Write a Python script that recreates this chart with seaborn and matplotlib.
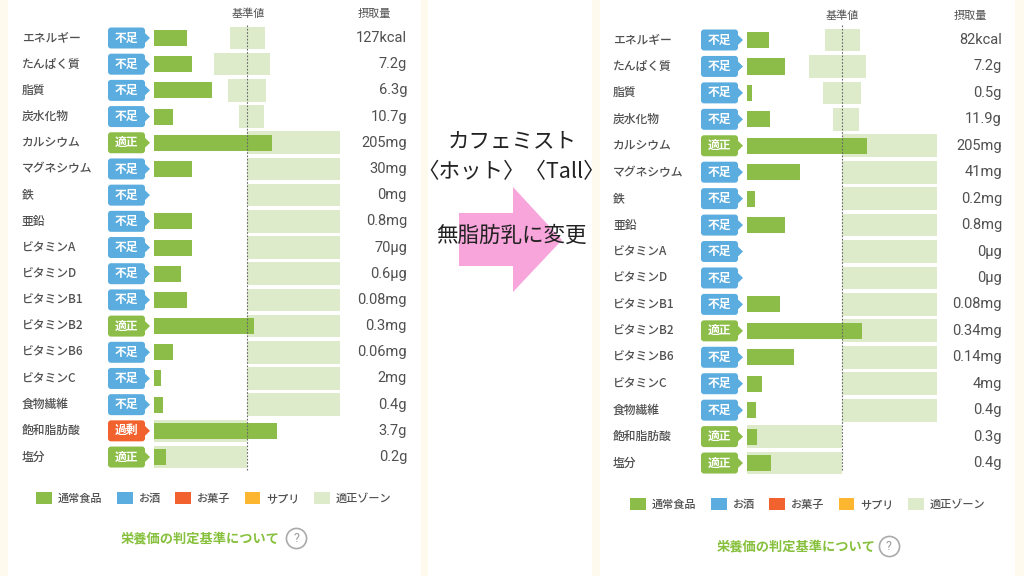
import numpy as np
import matplotlib
matplotlib.use('Agg')
import matplotlib.pyplot as plt
import seaborn as sns
from matplotlib.patches import FancyBboxPatch, Polygon, Rectangle, Patch

# ---- data (摂取量は基準値を100としたときの%) ----
nutrients = ['エネルギー', 'たんぱく質', '脂質', '炭水化物', 'カルシウム', 'マグネシウム', '鉄', '亜鉛',
             'ビタミンA', 'ビタミンD', 'ビタミンB1', 'ビタミンB2', 'ビタミンB6', 'ビタミンC',
             '食物繊維', '飽和脂肪酸', '塩分']

zone_lo = [82, 65, 80, 91, 100, 100, 100, 100, 100, 100, 100, 100, 100, 100, 100, 0, 0]
zone_hi = [119, 125, 120, 118, 200, 200, 200, 200, 200, 200, 200, 200, 200, 200, 200, 100, 100]

pct_before = [35.5, 41, 62, 20.5, 127, 41, 0, 41, 41, 29, 35.5, 107.5, 20.5, 7.5, 9.5, 132, 13]
pct_after = [23, 40, 5, 24, 126, 56, 8, 40, 0, 0, 35, 121, 49.5, 16, 9.5, 10.5, 25]

amount_before = ['127kcal', '7.2g', '6.3g', '10.7g', '205mg', '30mg', '0mg', '0.8mg', '70μg', '0.6μg',
                 '0.08mg', '0.3mg', '0.06mg', '2mg', '0.4g', '3.7g', '0.2g']
amount_after = ['82kcal', '7.2g', '0.5g', '11.9g', '205mg', '41mg', '0.2mg', '0.8mg', '0μg', '0μg',
                '0.08mg', '0.34mg', '0.14mg', '4mg', '0.4g', '0.3g', '0.4g']

judge_before = ['不足'] * 4 + ['適正'] + ['不足'] * 6 + ['適正'] + ['不足'] * 3 + ['過剰', '適正']
judge_after = ['不足'] * 4 + ['適正'] + ['不足'] * 6 + ['適正'] + ['不足'] * 3 + ['適正', '適正']

legend_labels = ['通常食品', 'お酒', 'お菓子', 'サプリ', '適正ゾーン']

# ---- style ----
GREEN = '#8cbd48'
ZONE = '#deebcb'
BLUE = '#5baddf'
RED = '#f2622f'
ORANGE = '#fcb630'
CREAM = '#fefaee'
GRAY = '#505050'
badge_colors = {'不足': BLUE, '適正': GREEN, '過剰': RED}
legend_colors = [GREEN, BLUE, RED, ORANGE, ZONE]

sns.set_style('white')
JP = ['Noto Sans CJK JP', 'DejaVu Sans']
NUM = ['Roboto', 'DejaVu Sans']
plt.rcParams['font.family'] = JP

W, H = 1024, 576
fig = plt.figure(figsize=(W / 100, H / 100), dpi=100)
fig.patch.set_facecolor(CREAM)

# background cards + middle arrow, in image pixels
bg = fig.add_axes([0, 0, 1, 1])
bg.set_xlim(0, W)
bg.set_ylim(H, 0)
bg.set_axis_off()
for a, b in [(8, 421), (428, 592), (600, 1015)]:
    bg.add_patch(Rectangle((a, 0), b - a, H, fc='white', ec='none'))
arrow = [(459, 213), (513, 213), (513, 187), (562, 240), (513, 292), (513, 266), (459, 266)]
bg.add_patch(Polygon(arrow, closed=True, fc='#f8a5dc', ec='none'))
bg.text(512, 141, 'カフェミスト', ha='center', va='center', fontsize=15.5, color='#222')
bg.text(511, 172, '〈ホット〉〈Tall〉', ha='center', va='center', fontsize=15.5, color='#222')
bg.text(511, 236, '無脂肪乳に変更', ha='center', va='center', fontsize=15.5, color='#222')

n = len(nutrients)


def draw_panel(g, pct, judges, amounts):
    x0, x1 = g['x0'], g['x1']
    ax = fig.add_axes([x0 / W, 0, (x1 - x0) / W, 1])
    ax.patch.set_alpha(0)

    def px(p):
        return (p - g['zero']) * 100 / (g['ref'] - g['zero'])

    def py(p):
        return (p - g['row0']) / g['step']

    ax.barh(np.arange(n), np.subtract(zone_hi, zone_lo), left=zone_lo, height=0.86,
            color=ZONE, linewidth=0, zorder=1)
    sns.barplot(x=pct, y=nutrients, order=nutrients, orient='h', color=GREEN,
                saturation=1, width=0.61, errorbar=None, linewidth=0, ax=ax, zorder=2)
    ax.vlines(100, py(25), py(470), colors='#666666', linestyles=(0, (1.5, 1.5)),
              linewidth=0.8, zorder=5)

    ax.set_xlim(px(x0), px(x1))
    ax.set_ylim(py(H), py(0))
    ax.set_axis_off()

    # header
    ax.text(px(g['ref_head']), py(g['head_y']), '基準値', ha='center', va='center',
            fontsize=8, color=GRAY)
    ax.text(px(g['amt_head']), py(g['head_y']), '摂取量', ha='center', va='center',
            fontsize=8, color=GRAY)

    # badges, labels, amounts
    xu = 100 / (g['ref'] - g['zero'])
    yu = 1 / g['step']
    b0, b1 = px(g['badge'][0]), px(g['badge'][1])
    for i in range(n):
        ax.text(px(g['label_x']), i, nutrients[i], ha='left', va='center', fontsize=8.5,
                color=GRAY, weight='medium')
        ax.text(px(g['value_x']), i, amounts[i], ha='right', va='center', fontsize=10.5,
                color=GRAY, family=NUM)
        c = badge_colors[judges[i]]
        h = 21 * yu
        ax.add_patch(FancyBboxPatch((b0, i - h / 2), b1 - b0, h,
                                    boxstyle='round,pad=0,rounding_size=%f' % (3 * xu),
                                    mutation_aspect=yu / xu, fc=c, ec='none', zorder=3))
        ax.add_patch(Polygon([(b1 - 0.1, i - 5 * yu), (b1 + 5 * xu, i), (b1 - 0.1, i + 5 * yu)],
                             closed=True, fc=c, ec='none', zorder=3))
        ax.text((b0 + b1) / 2, i, judges[i], ha='center', va='center', fontsize=8.5,
                color='white', weight='bold', zorder=4)

    # legend
    handles = [Patch(facecolor=c, edgecolor='none', label=l)
               for c, l in zip(legend_colors, legend_labels)]
    ax.legend(handles=handles, loc='center', ncol=5, frameon=False,
              bbox_to_anchor=(px(g['leg_x']), py(g['leg_y'])), bbox_transform=ax.transData,
              prop={'family': JP, 'size': 8, 'weight': 'medium'}, labelcolor=GRAY,
              handlelength=1.4, handleheight=1.4, handletextpad=0.55, columnspacing=1.3,
              borderpad=0)

    # link
    ax.text(px(g['link_x']), py(g['link_y']), '栄養価の判定基準について', ha='center',
            va='center', fontsize=9.5, color='#86c03c', weight='bold')
    ax.plot([px(g['q_x'])], [py(g['link_y'])], marker='o', markersize=14.5,
            markerfacecolor='white', markeredgecolor='#aaaaaa', markeredgewidth=1.2)
    ax.text(px(g['q_x']), py(g['link_y']), '?', ha='center', va='center', fontsize=9,
            color='#999999', family=NUM)


left = dict(x0=8, x1=421, zero=154, ref=247, row0=38, step=26.19, label_x=22,
            badge=(108, 145), value_x=407, ref_head=248, amt_head=374, head_y=14,
            leg_x=214, leg_y=498, link_x=200, link_y=538, q_x=296)
right = dict(x0=600, x1=1015, zero=747, ref=842, row0=40, step=26.44, label_x=613,
             badge=(701, 738), value_x=1002, ref_head=842, amt_head=970, head_y=16,
             leg_x=808, leg_y=504, link_x=796, link_y=546, q_x=889)

draw_panel(left, pct_before, judge_before, amount_before)
draw_panel(right, pct_after, judge_after, amount_after)

fig.savefig('out.png', dpi=100, facecolor=fig.get_facecolor())
